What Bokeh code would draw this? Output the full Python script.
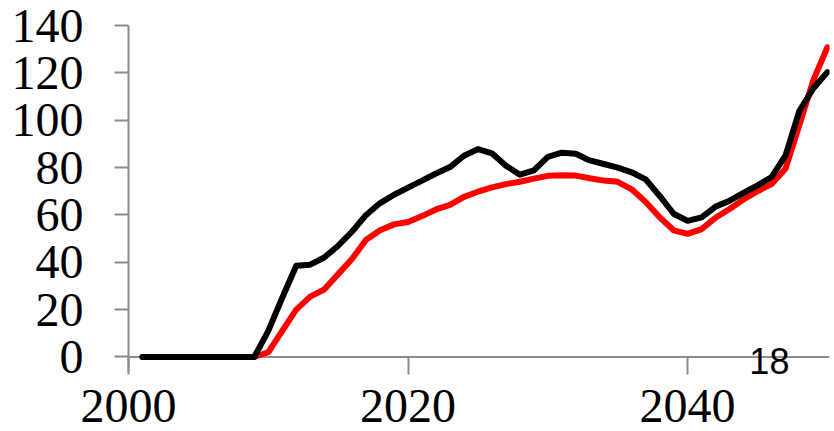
from bokeh.plotting import figure
from bokeh.models import Range1d, FixedTicker, Label, Span
from bokeh.embed import file_html
from bokeh.resources import INLINE

years = list(range(2001, 2051))

black_series = [0, 0, 0, 0, 0, 0, 0, 0, 0,
                11, 25, 38.5, 39, 42, 47, 53, 60, 65, 68.5, 71.5,
                74.5, 77.5, 80.2, 85, 87.8, 86, 80.8, 77, 78.8, 84.5,
                86.3, 85.8, 83, 81.5, 80, 78, 75, 68, 60.5, 57.5,
                59, 63.5, 66, 69.3, 72.5, 76, 85, 104, 113.5, 120.3]

red_series = [0, 0, 0, 0, 0, 0, 0, 0, 0,
              2, 11, 20, 25.5, 28.5, 35, 41.5, 49.5, 53.5, 56, 57,
              59.5, 62.3, 64.2, 67.6, 69.8, 71.6, 73, 74, 75.3, 76.5,
              76.8, 76.6, 75.5, 74.5, 74, 70.8, 65.5, 59, 53.5, 52,
              54, 58.8, 62.5, 66.5, 70, 73, 79.5, 98, 117, 130.8]

x_ticks = [2000, 2020, 2040]
y_ticks = [0, 20, 40, 60, 80, 100, 120, 140]
note_text = "18"
note_x = 2045.85
note_y = -1.6

AXIS_GRAY = "#8c8c8c"

p = figure(width=834, height=431, output_backend="svg", toolbar_location=None,
           x_range=Range1d(2000, 2050.15), y_range=Range1d(-7.4, 140),
           min_border_left=128, min_border_right=5, min_border_top=25,
           min_border_bottom=57)
p.outline_line_color = None
p.xgrid.grid_line_color = None
p.ygrid.grid_line_color = None

zero_line = Span(location=0, dimension="width", line_color=AXIS_GRAY, line_width=2, level="underlay")
p.add_layout(zero_line)

p.line(years, red_series, line_color="#ff0000", line_width=6, line_cap="round", line_join="round")
p.line(years, black_series, line_color="#000000", line_width=6, line_cap="round", line_join="round")

# x axis at the frame bottom, ticks pointing up to y = 0
p.xaxis.ticker = FixedTicker(ticks=x_ticks)
p.xaxis.axis_line_color = None
p.xaxis.major_tick_line_color = AXIS_GRAY
p.xaxis.major_tick_line_width = 2
p.xaxis.major_tick_in = 17
p.xaxis.major_tick_out = 0
p.xaxis.minor_tick_line_color = None
p.xaxis.major_label_text_font = "Liberation Serif"
p.xaxis.major_label_text_font_size = "48px"
p.xaxis.major_label_text_color = "black"
p.xaxis.major_label_standoff = 15

# y axis
p.yaxis.ticker = FixedTicker(ticks=y_ticks)
p.yaxis.bounds = (-6.0, 140)
p.yaxis.axis_line_color = AXIS_GRAY
p.yaxis.axis_line_width = 2
p.yaxis.major_tick_line_color = AXIS_GRAY
p.yaxis.major_tick_line_width = 2
p.yaxis.major_tick_in = 0
p.yaxis.major_tick_out = 14
p.yaxis.minor_tick_line_color = None
p.yaxis.major_label_text_font = "Liberation Serif"
p.yaxis.major_label_text_font_size = "48px"
p.yaxis.major_label_text_color = "black"
p.yaxis.major_label_standoff = 31

note = Label(x=note_x, y=note_y, text=note_text, text_font="Liberation Sans",
             text_font_size="36px", text_color="black", text_align="center",
             text_baseline="middle")
p.add_layout(note)

open("out.html", "w").write(file_html(p, INLINE))
